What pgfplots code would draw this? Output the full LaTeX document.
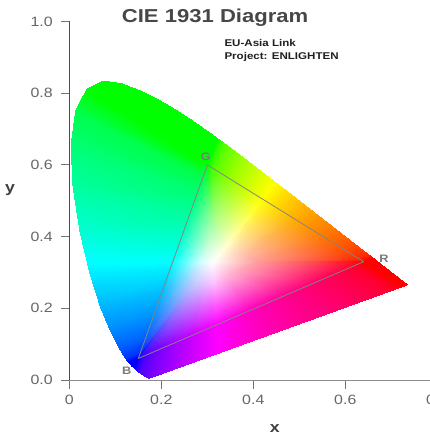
\documentclass[border=0pt]{standalone}
\usepackage{pgfplots}
\pgfplotsset{compat=1.18}
\usepgfplotslibrary{patchplots}
\usepackage{fontspec}
\setmainfont{Liberation Sans}[FakeStretch=1.18]
\begin{document}
\begin{tikzpicture}
\begin{axis}[
  scale only axis, width=368pt, height=358.5pt,
  at={(0pt,0pt)}, anchor=south west,
  xmin=0, xmax=0.8, ymin=0, ymax=1,
  axis lines=left,
  axis line style={-},
  x axis line style={draw=black!45, line width=1pt},
  y axis line style={draw=black!70, line width=1pt},
  tick align=outside,
  major tick length=8.5pt,
  tick style={draw=black!55, line width=0.9pt},
  xtick={0,0.2,0.4,0.6,0.8},
  ytick={0,0.2,0.4,0.6,0.8,1.0},
  /pgf/number format/assume math mode=true,
  yticklabel style={/pgf/number format/.cd, fixed, fixed zerofill, precision=1, /tikz/.cd, xshift=-4.5pt},
  xticklabel style={yshift=-3pt},
  ticklabel style={font=\fontsize{13.5}{15}\selectfont, text=black!60},
  clip=false,
]
\addplot[patch, shader=interp, mesh/color input=explicit, point meta=explicit symbolic,
  table/row sep=\\,
  patch table={
0 31 32\\ 31 1 2\\ 31 2 32\\
0 32 33\\ 32 2 3\\ 32 3 33\\
0 33 34\\ 33 3 4\\ 33 4 34\\
0 34 35\\ 34 4 5\\ 34 5 35\\
0 35 36\\ 35 5 6\\ 35 6 36\\
0 36 37\\ 36 6 7\\ 36 7 37\\
0 37 38\\ 37 7 8\\ 37 8 38\\
0 38 39\\ 38 8 9\\ 38 9 39\\
0 39 40\\ 39 9 10\\ 39 10 40\\
0 40 41\\ 40 10 11\\ 40 11 41\\
0 41 42\\ 41 11 12\\ 41 12 42\\
0 42 43\\ 42 12 13\\ 42 13 43\\
0 43 44\\ 43 13 14\\ 43 14 44\\
0 44 45\\ 44 14 15\\ 44 15 45\\
0 45 46\\ 45 15 16\\ 45 16 46\\
0 46 47\\ 46 16 17\\ 46 17 47\\
0 47 48\\ 47 17 18\\ 47 18 48\\
0 48 49\\ 48 18 19\\ 48 19 49\\
0 49 50\\ 49 19 20\\ 49 20 50\\
0 50 51\\ 50 20 21\\ 50 21 51\\
0 51 52\\ 51 21 22\\ 51 22 52\\
0 52 53\\ 52 22 23\\ 52 23 53\\
0 53 54\\ 53 23 24\\ 53 24 54\\
0 54 55\\ 54 24 25\\ 54 25 55\\
0 55 56\\ 55 25 26\\ 55 26 56\\
0 56 57\\ 56 26 27\\ 56 27 57\\
0 57 58\\ 57 27 28\\ 57 28 58\\
0 58 59\\ 58 28 29\\ 58 29 59\\
0 59 60\\ 59 29 30\\ 59 30 60\\
0 60 31\\ 60 30 1\\ 60 1 31\\
1 72 73\\ 1 73 61\\
61 73 74\\ 61 74 62\\
62 74 75\\ 62 75 63\\
63 75 76\\ 63 76 64\\
64 76 77\\ 64 77 65\\
65 77 78\\ 65 78 66\\
66 78 79\\ 66 79 67\\
67 79 80\\ 67 80 6\\
6 80 81\\ 6 81 68\\
68 81 82\\ 68 82 69\\
69 82 83\\ 69 83 70\\
70 83 84\\ 70 84 71\\
71 84 85\\ 71 85 10\\
10 95 96\\ 10 96 86\\
86 96 97\\ 86 97 87\\
87 97 98\\ 87 98 88\\
88 98 99\\ 88 99 89\\
89 99 100\\ 89 100 15\\
15 100 101\\ 15 101 90\\
90 101 102\\ 90 102 91\\
91 102 103\\ 91 103 92\\
92 103 104\\ 92 104 93\\
93 104 105\\ 93 105 94\\
94 105 106\\ 94 106 20\\
20 123 124\\ 20 124 107\\
107 124 125\\ 107 125 108\\
108 125 126\\ 108 126 109\\
109 126 127\\ 109 127 110\\
110 127 128\\ 110 128 111\\
111 128 129\\ 111 129 112\\
112 129 130\\ 112 130 113\\
113 130 131\\ 113 131 114\\
114 131 132\\ 114 132 25\\
25 132 133\\ 25 133 115\\
115 133 134\\ 115 134 116\\
116 134 135\\ 116 135 117\\
117 135 136\\ 117 136 118\\
118 136 137\\ 118 137 119\\
119 137 138\\ 119 138 120\\
120 138 139\\ 120 139 121\\
121 139 140\\ 121 140 122\\
122 140 141\\ 122 141 1\\
10 95 142\\ 10 142 143\\ 10 143 144\\ 10 144 145\\ 10 145 146\\
10 146 147\\ 10 147 148\\ 10 148 149\\ 10 149 85\\
1 72 150\\ 1 150 151\\ 1 151 152\\ 1 152 153\\ 1 153 154\\
1 154 155\\ 1 155 141\\
20 106 156\\ 20 156 123\\
  }]
table[meta=c] {
x y c\\
0.3127 0.3290 rgb=1,1,1\\
0.6400 0.3300 rgb=1,0,0\\
0.6298 0.3381 rgb=1,0.156,0\\
0.6060 0.3570 rgb=1,0.279,0\\
0.5550 0.3975 rgb=1,0.459,0\\
0.4870 0.4515 rgb=1,0.690,0\\
0.4193 0.5053 rgb=1,1,0\\
0.3680 0.5460 rgb=0.704,1,0\\
0.3272 0.5784 rgb=0.436,1,0\\
0.3085 0.5933 rgb=0.250,1,0\\
0.3000 0.6000 rgb=0,1,0\\
0.29625 0.5865 rgb=0,1,0.188\\
0.2880 0.5568 rgb=0,1,0.328\\
0.2700 0.4920 rgb=0,1,0.530\\
0.2475 0.4110 rgb=0,1,0.752\\
0.2246 0.3287 rgb=0,1,1\\
0.2025 0.2490 rgb=0,0.758,1\\
0.1800 0.1680 rgb=0,0.535,1\\
0.1620 0.1032 rgb=0,0.331,1\\
0.15375 0.0735 rgb=0,0.190,1\\
0.1500 0.0600 rgb=0,0,1\\
0.15735 0.06405 rgb=0.198,0,1\\
0.1794 0.0762 rgb=0.380,0,1\\
0.2235 0.1005 rgb=0.604,0,1\\
0.2725 0.1275 rgb=0.806,0,1\\
0.3209 0.1542 rgb=1,0,1\\
0.3950 0.1950 rgb=1,0,0.753\\
0.4783 0.2409 rgb=1,0,0.546\\
0.5518 0.2814 rgb=1,0,0.378\\
0.6057 0.3111 rgb=1,0,0.232\\
0.6302 0.3246 rgb=1,0,0.128\\
0.4109 0.3293 rgb=1,0.605,0.605\\
0.4078 0.3317 rgb=1,0.620,0.611\\
0.4007 0.3374 rgb=1,0.655,0.624\\
0.3854 0.3496 rgb=1,0.734,0.658\\
0.3650 0.3658 rgb=1,0.854,0.712\\
0.3447 0.3819 rgb=1,1,0.784\\
0.3293 0.3941 rgb=0.877,1,0.752\\
0.3171 0.4038 rgb=0.780,1,0.729\\
0.3114 0.4083 rgb=0.736,1,0.719\\
0.3089 0.4103 rgb=0.715,1,0.715\\
0.3078 0.4063 rgb=0.719,1,0.728\\
0.3053 0.3973 rgb=0.729,1,0.757\\
0.2999 0.3779 rgb=0.752,1,0.822\\
0.2931 0.3536 rgb=0.784,1,0.907\\
0.2863 0.3289 rgb=0.821,1,1\\
0.2796 0.3050 rgb=0.785,0.909,1\\
0.2729 0.2807 rgb=0.753,0.824,1\\
0.2675 0.2613 rgb=0.730,0.759,1\\
0.2650 0.2524 rgb=0.721,0.730,1\\
0.2639 0.2483 rgb=0.716,0.716,1\\
0.2661 0.2495 rgb=0.729,0.719,1\\
0.2727 0.2532 rgb=0.766,0.727,1\\
0.2859 0.2605 rgb=0.826,0.743,1\\
0.3006 0.2686 rgb=0.919,0.763,1\\
0.3152 0.2766 rgb=1,0.785,1\\
0.3374 0.2888 rgb=1,0.728,0.886\\
0.3624 0.3026 rgb=1,0.678,0.779\\
0.3844 0.3147 rgb=1,0.641,0.695\\
0.4006 0.3236 rgb=1,0.618,0.639\\
0.4080 0.3277 rgb=1,0.609,0.615\\
0.6279 0.3396 rgb=1,0.169,0\\
0.6047 0.3580 rgb=1,0.284,0\\
0.5788 0.3786 rgb=1,0.380,0\\
0.5493 0.4021 rgb=1,0.478,0\\
0.5175 0.4272 rgb=1,0.582,0\\
0.4844 0.4536 rgb=1,0.700,0\\
0.4504 0.4805 rgb=1,0.840,0\\
0.4162 0.5078 rgb=0.982,1,0\\
0.3820 0.5349 rgb=0.785,1,0\\
0.3483 0.5617 rgb=0.584,1,0\\
0.3151 0.5880 rgb=0.328,1,0\\
0.6594 0.3407 rgb=1,0,0\\
0.6482 0.3514 rgb=1,0.169,0\\
0.6270 0.3725 rgb=1,0.284,0\\
0.6029 0.3965 rgb=1,0.380,0\\
0.5752 0.4242 rgb=1,0.478,0\\
0.5448 0.4544 rgb=1,0.582,0\\
0.5125 0.4866 rgb=1,0.700,0\\
0.4788 0.5202 rgb=1,0.840,0\\
0.4473 0.5515 rgb=1,1,0\\
0.4441 0.5547 rgb=0.982,1,0\\
0.4087 0.5896 rgb=0.785,1,0\\
0.3731 0.6245 rgb=0.584,1,0\\
0.3373 0.6589 rgb=0.328,1,0\\
0.3207 0.6745 rgb=0,1,0\\
0.2902 0.5648 rgb=0,1,0.297\\
0.2766 0.5156 rgb=0,1,0.463\\
0.2598 0.4554 rgb=0,1,0.630\\
0.2399 0.3837 rgb=0,1,0.829\\
0.2181 0.3052 rgb=0,0.923,1\\
0.1972 0.2298 rgb=0,0.705,1\\
0.1789 0.1642 rgb=0,0.524,1\\
0.1644 0.1119 rgb=0,0.363,1\\
0.1537 0.0734 rgb=0,0.190,1\\
0.0375 0.8085 rgb=0,1,0\\
0.0139 0.7502 rgb=0,1,0.297\\
0.0039 0.6548 rgb=0,1,0.463\\
0.0082 0.5384 rgb=0,1,0.630\\
0.0235 0.4127 rgb=0,1,0.829\\
0.0392 0.3282 rgb=0,1,1\\
0.0454 0.2950 rgb=0,0.923,1\\
0.0687 0.2007 rgb=0,0.705,1\\
0.0913 0.1327 rgb=0,0.524,1\\
0.1096 0.0868 rgb=0,0.363,1\\
0.1241 0.0578 rgb=0,0.190,1\\
0.1298 0.0489 rgb=0,0,1\\
0.1624 0.0668 rgb=0.252,0,1\\
0.1697 0.0708 rgb=0.314,0,1\\
0.1794 0.0762 rgb=0.380,0,1\\
0.1849 0.0792 rgb=0.413,0,1\\
0.1904 0.0823 rgb=0.445,0,1\\
0.2134 0.0949 rgb=0.558,0,1\\
0.2570 0.1190 rgb=0.744,0,1\\
0.3000 0.1427 rgb=0.916,0,1\\
0.3423 0.1659 rgb=1,0,0.919\\
0.3839 0.1889 rgb=1,0,0.785\\
0.4248 0.2114 rgb=1,0,0.674\\
0.4651 0.2337 rgb=1,0,0.576\\
0.5048 0.2555 rgb=1,0,0.486\\
0.5439 0.2770 rgb=1,0,0.397\\
0.5824 0.2982 rgb=1,0,0.301\\
0.6202 0.3191 rgb=1,0,0.178\\
0.1422 0.0319 rgb=0,0,1\\
0.1510 0.0227 rgb=0.252,0,1\\
0.1566 0.0177 rgb=0.314,0,1\\
0.1644 0.0109 rgb=0.380,0,1\\
0.1689 0.0069 rgb=0.413,0,1\\
0.1741 0.0050 rgb=0.445,0,1\\
0.2000 0.0170 rgb=0.558,0,1\\
0.2500 0.0402 rgb=0.744,0,1\\
0.3000 0.0635 rgb=0.916,0,1\\
0.3246 0.0749 rgb=1,0,1\\
0.3500 0.0867 rgb=1,0,0.919\\
0.4000 0.1099 rgb=1,0,0.785\\
0.4500 0.1331 rgb=1,0,0.674\\
0.5000 0.1563 rgb=1,0,0.576\\
0.5500 0.1795 rgb=1,0,0.486\\
0.6000 0.2028 rgb=1,0,0.397\\
0.6500 0.2260 rgb=1,0,0.301\\
0.7000 0.2492 rgb=1,0,0.178\\
0.7264 0.2614 rgb=1,0,0\\
0.0389 0.8120 rgb=0,1,0\\
0.0743 0.8338 rgb=0,1,0\\
0.1142 0.8262 rgb=0,1,0\\
0.1547 0.8059 rgb=0,1,0\\
0.1929 0.7816 rgb=0,1,0\\
0.2296 0.7543 rgb=0,1,0\\
0.2658 0.7243 rgb=0,1,0\\
0.3016 0.6923 rgb=0,1,0\\
0.6658 0.3340 rgb=1,0,0\\
0.6915 0.3083 rgb=1,0,0\\
0.7079 0.2920 rgb=1,0,0\\
0.7190 0.2809 rgb=1,0,0\\
0.7260 0.2740 rgb=1,0,0\\
0.7347 0.2653 rgb=1,0,0\\
0.1355 0.0399 rgb=0,0,1\\
};
\addplot[draw=black!48, line width=0.8pt] coordinates {(0.64,0.33) (0.30,0.60) (0.15,0.06) (0.64,0.33)};
\node[anchor=base, inner sep=0pt, font=\bfseries\fontsize{18.7}{20}\selectfont, text=black!72] at (axis cs:0.317,0.998) {CIE 1931 Diagram};
\node[anchor=base west, inner sep=0pt, font=\bfseries\fontsize{9.8}{12}\selectfont, text=black!88] at (axis cs:0.337,0.929) {EU-Asia Link};
\node[anchor=base west, inner sep=0pt, font=\bfseries\fontsize{9.8}{12}\selectfont, text=black!88] at (axis cs:0.337,0.893) {Project: ENLIGHTEN};
\node[inner sep=0pt, font=\bfseries\fontsize{15}{16}\selectfont, text=black!75] at (axis cs:0.447,-0.134) {x};
\node[inner sep=0pt, font=\bfseries\fontsize{15}{16}\selectfont, text=black!75] at (axis cs:-0.129,0.531) {y};
\node[inner sep=0pt, font=\bfseries\fontsize{10.8}{12}\selectfont, text=black!52] at (axis cs:0.297,0.623) {G};
\node[inner sep=0pt, font=\bfseries\fontsize{10.8}{12}\selectfont, text=black!52] at (axis cs:0.684,0.337) {R};
\node[inner sep=0pt, font=\bfseries\fontsize{10.8}{12}\selectfont, text=black!52] at (axis cs:0.125,0.026) {B};
\end{axis}
\pgfresetboundingbox
\useasboundingbox (-69.3pt,-54pt) rectangle (359.7pt,380pt);
\end{tikzpicture}
\end{document}
